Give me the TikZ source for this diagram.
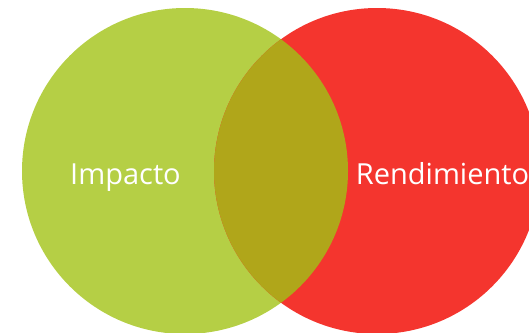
\documentclass[tikz,border=0pt]{standalone}
\usepackage{fontspec}
\setmainfont{Open Sans}
\definecolor{limeset}{HTML}{B5CF45}
\definecolor{redset}{HTML}{F4352E}
\definecolor{mixset}{HTML}{B0A61A}
\tikzset{
    setcircle/.style={circle, minimum size=326pt, inner sep=0pt},
    setlabel/.style={text=white, anchor=base, inner sep=0pt, font=\fontsize{29}{34}\selectfont},
}
\begin{document}
\begin{tikzpicture}[x=1pt, y=-1pt]
    \useasboundingbox (0,0) rectangle (529,332);
    \node [setcircle, fill=limeset] (imp) at (185,171) {};
    \node [setcircle, fill=redset] (ren) at (377,171) {};

    % overlap of both sets
    \begin{scope}
    \clip (imp.center) circle (163);
    \fill [mixset] (ren.center) circle (163);
    \end{scope}

    \node [setlabel] (impl) at (125.5,184) {Impacto};
    \node [setlabel] (renl) at (442.5,184) {Rendimiento};
\end{tikzpicture}
\end{document}
